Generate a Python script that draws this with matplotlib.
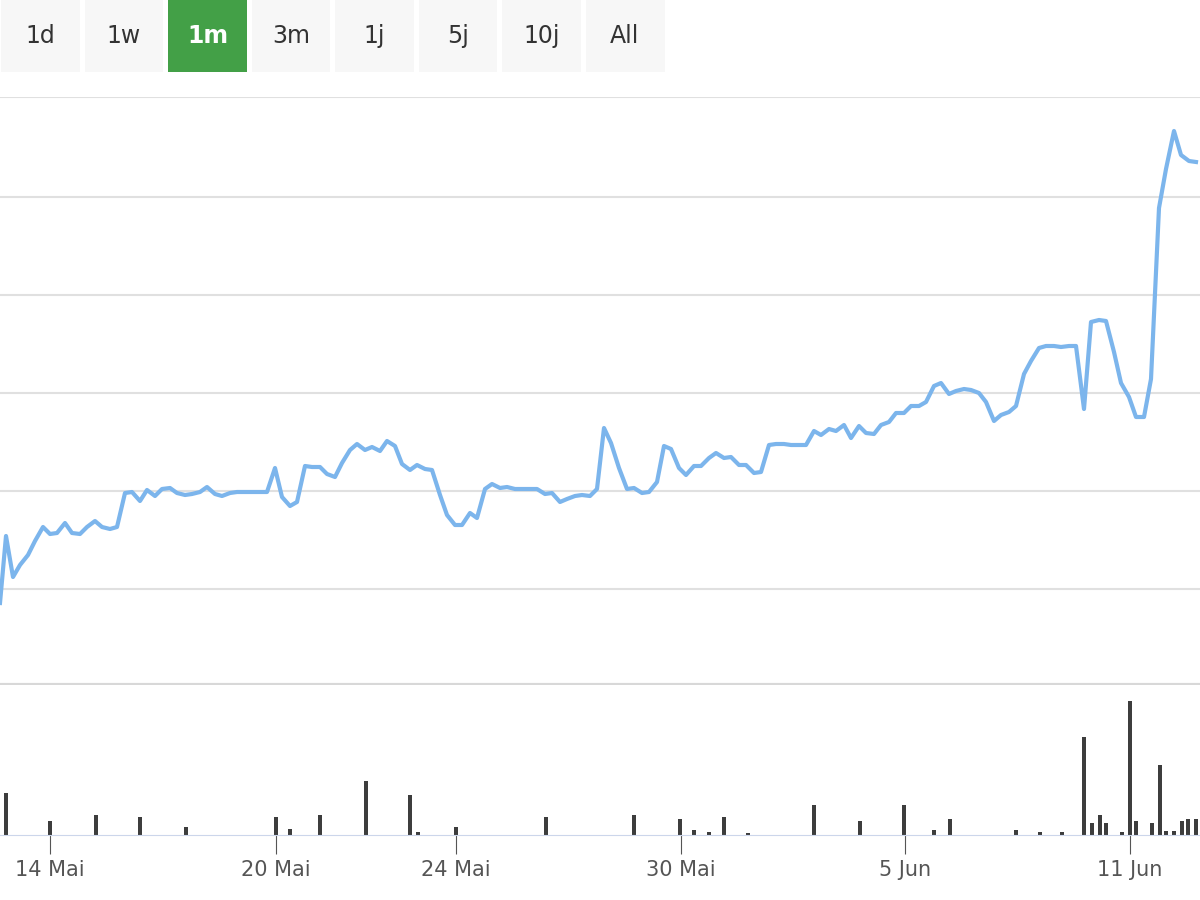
import matplotlib
matplotlib.use("Agg")
import matplotlib.pyplot as plt
from matplotlib.patches import Rectangle

buttons = ["1d", "1w", "1m", "3m", "1j", "5j", "10j", "All"]
active = "1m"
tick_pos = [50, 276, 456, 681, 905, 1130]
tick_labels = ["14 Mai", "20 Mai", "24 Mai", "30 Mai", "5 Jun", "11 Jun"]

price_x = [0,6,13,20,28,35,43,50,57,65,72,80,87,95,102,110,117,125,132,140,147,155,162,170,177,185,192,200,207,215,222,230,237,245,260,267,275,282,290,297,305,312,320,327,335,342,350,357,365,372,380,387,395,402,410,417,425,432,440,447,455,462,470,477,485,492,500,507,515,522,530,537,545,552,560,567,575,582,590,597,604,611,619,627,634,642,649,657,664,671,679,686,694,701,709,716,724,731,739,746,754,761,769,776,784,791,799,806,814,821,829,836,844,851,859,866,874,881,889,896,904,911,919,926,934,941,949,956,964,971,979,986,994,1001,1009,1016,1024,1031,1039,1046,1054,1061,1069,1076,1084,1091,1099,1106,1114,1121,1129,1136,1144,1151,1159,1166,1174,1181,1189,1196]
price_px = [603,536,577,565,555,541,527,534,533,523,533,534,527,521,527,529,527,493,492,501,490,496,489,488,493,495,494,492,487,494,496,493,492,492,492,492,468,497,506,502,466,467,467,474,477,463,450,444,450,447,451,441,446,464,470,465,469,470,495,515,525,525,513,518,489,484,488,487,489,489,489,489,494,493,502,499,496,495,496,489,428,443,468,489,488,493,492,482,446,449,468,475,466,466,458,453,458,457,465,465,473,472,445,444,444,445,445,445,431,435,429,431,425,438,426,433,434,425,422,413,413,406,406,402,386,383,394,391,389,390,393,402,421,415,412,406,374,361,348,346,346,347,346,346,409,322,320,321,352,383,397,417,417,379,208,169,131,155,161,162]
price = [685 - v for v in price_px]

vol_x = [6,50,96,140,186,276,290,320,366,410,418,456,546,634,680,694,709,724,748,814,860,904,934,950,1016,1040,1062,1084,1092,1100,1106,1122,1130,1136,1152,1160,1166,1174,1182,1188,1196]
vol_top = [792,820,814,816,826,816,828,814,780,794,831,826,816,814,818,829,831,816,832,804,820,804,829,818,829,831,831,736,822,814,822,831,700,820,822,764,830,830,820,818,818]
volume = [834 - v for v in vol_top]

fig = plt.figure(figsize=(12, 9), dpi=100)

# buttons
for i, b in enumerate(buttons):
    x0 = 1 + i * 83.5
    on = b == active
    fig.patches.append(Rectangle((x0 / 1200, 1 - 72 / 900), 79 / 1200, 72 / 900,
                                 transform=fig.transFigure,
                                 facecolor="#43a047" if on else "#f7f7f7", edgecolor="none"))
    fig.text((x0 + 39.5) / 1200, 1 - 36 / 900, b, ha="center", va="center", fontsize=17,
             color="white" if on else "#333333", fontweight="bold" if on else "normal")

ax = fig.add_axes([0, (900 - 685) / 900, 1, 588 / 900])
ax.plot(price_x, price, color="#7cb5ec", lw=3)
ax.set_xlim(0, 1200)
ax.set_ylim(0, 588)
ax.set_yticks([96, 194, 292, 390, 488, 588])
ax.yaxis.grid(True, color="#e0e0e0", lw=1.5)
ax.set_yticklabels([])
ax.tick_params(left=False, bottom=False, labelbottom=False)
for s in ax.spines.values():
    s.set_visible(False)
ax.axhline(0, color="#d8d8d8", lw=3)

axv = fig.add_axes([0, (900 - 835) / 900, 1, 148 / 900])
axv.bar(vol_x, volume, width=4, color="#3d3d3d")
axv.set_xlim(0, 1200)
axv.set_ylim(0, 148)
axv.set_yticks([])
for s in ["left", "right", "top"]:
    axv.spines[s].set_visible(False)
axv.spines["bottom"].set_color("#ccd6eb")
axv.set_xticks(tick_pos)
axv.set_xticklabels(tick_labels, fontsize=15, color="#555555")
axv.tick_params(axis="x", length=14, color="#555555", pad=4)

fig.savefig("out.png")
